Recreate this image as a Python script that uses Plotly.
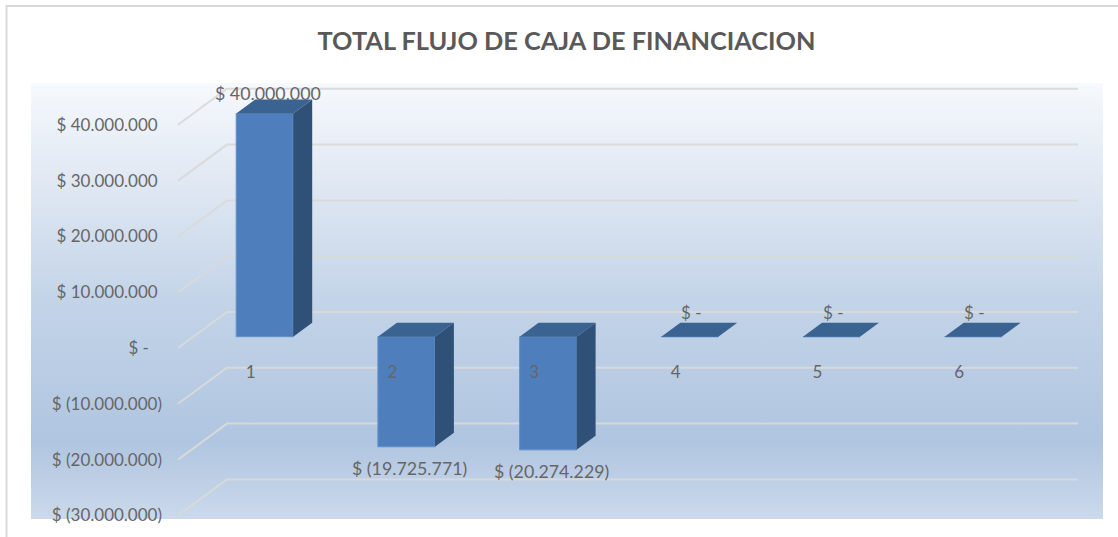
import plotly.graph_objects as go

TITLE = "TOTAL FLUJO DE CAJA DE FINANCIACION"
CATEGORIES = [1, 2, 3, 4, 5, 6]
VALUES = [40000000, -19725771, -20274229, 0, 0, 0]
VALUE_LABELS = ["$ 40.000.000", "$ (19.725.771)", "$ (20.274.229)", "$ -", "$ -", "$ -"]
Y_TICKS = [40000000, 30000000, 20000000, 10000000, 0, -10000000, -20000000, -30000000]
NBSP = "\u00a0"
Y_TICK_LABELS = ["$ 40.000.000" + NBSP, "$ 30.000.000" + NBSP, "$ 20.000.000" + NBSP,
                 "$ 10.000.000" + NBSP, "$ -" + NBSP * 3,
                 "$ (10.000.000)", "$ (20.000.000)", "$ (30.000.000)"]

W, H = 1118, 537
CAT1_PX, CAT_STEP = 264.7, 141.7
ZERO_PX, PX_PER_UNIT = 336.7, 55.8 / 1e7
BAR_W = 57 / CAT_STEP
DEPTH_X, DEPTH_Y = 19, 14


def xd(px, shift=0):
    return (px - shift - CAT1_PX) / CAT_STEP + 1


def dv(px):
    return px / PX_PER_UNIT


def yd(px):
    return (ZERO_PX - px) / PX_PER_UNIT


TEXT = "#666666"
FONT = "Lato"
FS = 17
FS_LABEL = 17.8

fig = go.Figure()

# Chart-area gradient (bottom to top)
GRAD = [[0, "#cbd9eb"], [0.18, "#b0c5e0"], [0.5, "#c3d4e8"], [0.8, "#e3eaf4"], [1, "#f6f9fd"]]
PANEL = (31, 1103, 83, 519)
fig.add_trace(go.Scatter(
    x=[xd(PANEL[0]), xd(PANEL[1]), xd(PANEL[1]), xd(PANEL[0]), xd(PANEL[0])],
    y=[yd(PANEL[2]), yd(PANEL[2]), yd(PANEL[3]), yd(PANEL[3]), yd(PANEL[2])],
    mode="lines", line=dict(width=0), fill="toself",
    fillgradient=dict(type="vertical", colorscale=GRAD),
    hoverinfo="skip", showlegend=False, xaxis="x", yaxis="y"))

# 3-D wall gridlines
for v in Y_TICKS:
    fig.add_trace(go.Scatter(
        x=[xd(178), xd(227), xd(1078)],
        y=[v + dv(ZERO_PX - 348), v + dv(ZERO_PX - 312), v + dv(ZERO_PX - 312)],
        mode="lines", line=dict(color="rgba(217,217,217,0.95)", width=2),
        hoverinfo="skip", showlegend=False, xaxis="x", yaxis="y"))

# Front faces
fig.add_trace(go.Bar(x=CATEGORIES, y=VALUES, width=BAR_W, marker=dict(color="#4e7fbc", line=dict(color="#6390c8", width=1)),
                     hoverinfo="skip", showlegend=False, xaxis="x2", yaxis="y2"))

# Top and side faces derived from each value
hw = BAR_W / 2
ddx = DEPTH_X / CAT_STEP
ddy = dv(DEPTH_Y)
for c, v in zip(CATEGORIES, VALUES):
    top = max(v, 0)
    low = min(v, 0)
    fig.add_trace(go.Scatter(
        x=[c - hw, c + hw, c + hw + ddx, c - hw + ddx, c - hw],
        y=[top, top, top + ddy, top + ddy, top],
        mode="lines", fill="toself", fillcolor="#3b6391", line=dict(width=0),
        hoverinfo="skip", showlegend=False, xaxis="x2", yaxis="y2"))
    if top != low:
        fig.add_trace(go.Scatter(
            x=[c + hw, c + hw + ddx, c + hw + ddx, c + hw, c + hw],
            y=[top, top + ddy, low + ddy, low, top],
            mode="lines", fill="toself", fillcolor="#2f5178", line=dict(width=0),
            hoverinfo="skip", showlegend=False, xaxis="x2", yaxis="y2"))

# Carrier trace for the axis with the labels
fig.add_trace(go.Scatter(x=CATEGORIES, y=[0] * 6, mode="markers", marker=dict(opacity=0, size=1),
                         hoverinfo="skip", showlegend=False, xaxis="x3", yaxis="y3"))

hidden = dict(visible=False, fixedrange=True)
x_range = [xd(0), xd(W)]
y_range = [yd(H), yd(0)]
LABEL_SHIFT_X = -14
YLAB_ZERO = 348
fig.update_layout(
    width=W, height=H, autosize=False,
    margin=dict(l=0, r=0, t=0, b=0, pad=0),
    paper_bgcolor="white", plot_bgcolor="rgba(0,0,0,0)",
    showlegend=False, barmode="overlay",
    font=dict(family=FONT, color=TEXT, size=FS),
    title=dict(text=f"<b>{TITLE}</b>", x=566.5 / W, xanchor="center", y=1 - 41 / H, yanchor="middle",
               font=dict(family=FONT, size=25.3, color="#595959")),
    xaxis=dict(range=x_range, domain=[0, 1], **hidden),
    yaxis=dict(range=y_range, domain=[0, 1], **hidden),
    xaxis2=dict(range=x_range, overlaying="x", anchor="y2", **hidden),
    yaxis2=dict(range=y_range, overlaying="y", anchor="x2", **hidden),
    xaxis3=dict(range=[xd(0, LABEL_SHIFT_X), xd(W, LABEL_SHIFT_X)], overlaying="x", anchor="free", position=1 - 359.5 / H,
                tickvals=CATEGORIES, ticktext=[str(c) for c in CATEGORIES], showgrid=False, zeroline=False,
                showline=False, ticks="", ticklen=0, tickfont=dict(family=FONT, size=FS, color=TEXT), fixedrange=True),
    yaxis3=dict(range=[(YLAB_ZERO - H) / PX_PER_UNIT, YLAB_ZERO / PX_PER_UNIT], overlaying="y", anchor="free",
                position=162 / W, side="left", tickvals=Y_TICKS, ticktext=Y_TICK_LABELS, showgrid=False,
                zeroline=False, showline=False, ticks="", ticklen=0,
                tickfont=dict(family=FONT, size=FS, color=TEXT), fixedrange=True),
    shapes=[dict(type="path", xref="paper", yref="paper",
                 path=f"M {6.5 / W} 0 L {6.5 / W} {1 - 6 / H} L 1 {1 - 6 / H}",
                 line=dict(color="#d9d9d9", width=2))],
)

# Data labels
for c, v, lab in zip(CATEGORIES, VALUES, VALUE_LABELS):
    yshift = 21 if v > 0 else (-21 if v < 0 else 24)
    fig.add_annotation(x=c, y=v, xref="x2", yref="y2", text=lab, showarrow=False,
                       xshift=3 if v != 0 else 1.5, yshift=yshift,
                       font=dict(family=FONT, size=FS_LABEL if v != 0 else FS, color=TEXT))

fig.write_html("out.html", config=dict(displayModeBar=False),
               post_script="document.body.style.margin='0';document.documentElement.style.overflow='hidden';")
